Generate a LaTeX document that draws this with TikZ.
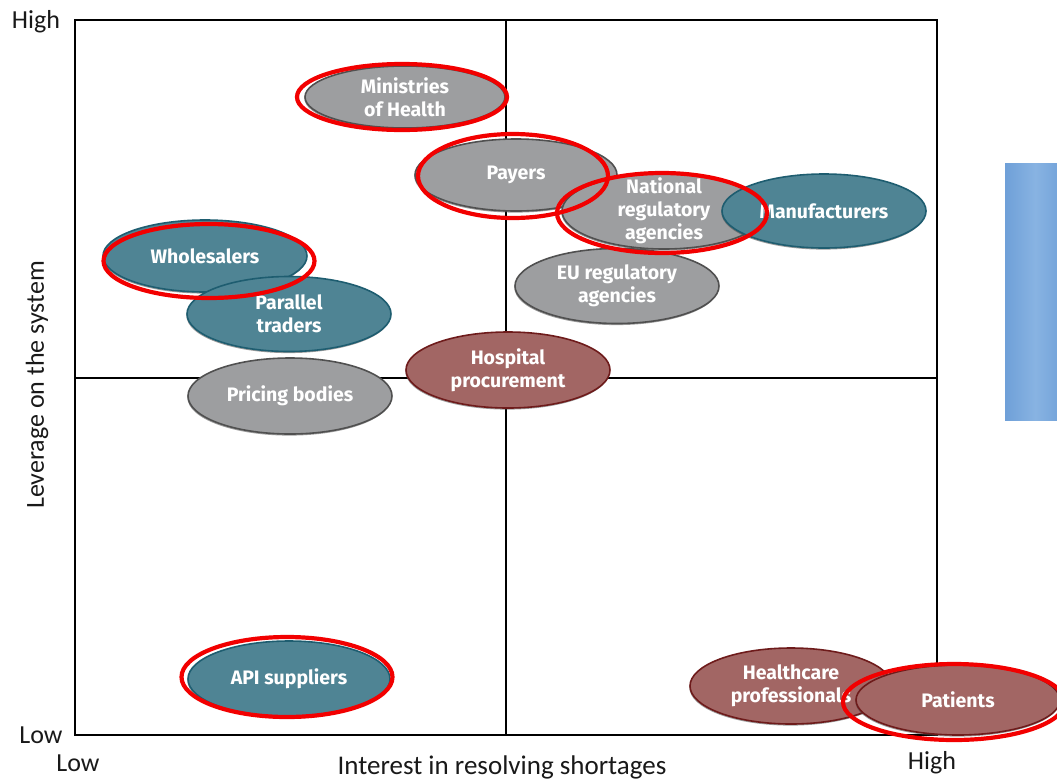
\documentclass[tikz,border=0pt]{standalone}
\usepackage{fontspec}
\setmainfont{Carlito}
\newfontfamily\bubblefont{Fira Sans}
\usetikzlibrary{shapes.geometric,shadows}
\definecolor{tealfill}{HTML}{4F8494}
\definecolor{tealline}{HTML}{1E5D70}
\definecolor{grayfill}{HTML}{9D9EA0}
\definecolor{grayline}{HTML}{505050}
\definecolor{brownfill}{HTML}{A26664}
\definecolor{brownline}{HTML}{6E1B1B}
\definecolor{ringred}{HTML}{F20000}
\definecolor{panelblue}{HTML}{6FA0D8}
\definecolor{panellight}{HTML}{88B3E2}
\tikzset{
  bubble/.style={ellipse, inner sep=0pt, line width=1.6pt,
    drop shadow={shadow xshift=-0.6pt, shadow yshift=-1.6pt, opacity=0.55, fill=black!70}},
  tealb/.style={bubble, fill=tealfill, draw=tealline},
  grayb/.style={bubble, fill=grayfill, draw=grayline},
  brownb/.style={bubble, fill=brownfill, draw=brownline},
  txt/.style={text=white, font=\bubblefont\bfseries\fontsize{19.5}{23}\selectfont, align=center, inner sep=0pt},
  ring/.style={ellipse, draw=ringred, line width=4.2pt, inner sep=0pt},
  axlabel/.style={font=\fontsize{26}{28}\selectfont, text=black!90, inner sep=0pt},
  frame/.style={line width=2.2pt},
  midline/.style={line width=1.6pt},
}
\begin{document}
\begin{tikzpicture}[x=1pt,y=-1pt]
\useasboundingbox (0,0) rectangle (1057,782);
\clip (0,0) rectangle (1057,782);
% blue panel
\node[minimum width=60pt, minimum height=257pt, inner sep=0pt, anchor=north west,
  left color=panelblue, right color=panelblue, middle color=panellight] (panel) at (1005,163) {};
% quadrant frame
\coordinate (tl) at (75,20);
\coordinate (br) at (937,735);
\coordinate (mt) at (506,20);
\coordinate (mb) at (506,735);
\coordinate (ml) at (75,378);
\coordinate (mr) at (937,378);
\draw[midline] (mt) -- (mb);
\draw[midline] (ml) -- (mr);
\draw[frame] (tl) rectangle (br);
% axis labels
\node[axlabel] (hightop) at (36,22) {High};
\node[axlabel] (lowleft) at (41,735) {Low};
\node[axlabel] (lowbot) at (78,763) {Low};
\node[axlabel] (highbot) at (932,763) {High};
\node[axlabel, font=\fontsize{27}{29}\selectfont] (xlab) at (502,767) {Interest in resolving shortages};
\node[axlabel, rotate=90] (ylab) at (37,385) {Leverage on the system};
% bubbles
\node[grayb, minimum width=200pt, minimum height=62pt] (moh) at (405,97) {};
\node[txt] (moht) at (moh) {Ministries\\of Health};
\node[grayb, minimum width=202pt, minimum height=72pt] (pay) at (516,175) {};
\node[txt] (payt) at (pay) {Payers};
\node[grayb, minimum width=204pt, minimum height=76pt] (nra) at (664,211) {};
\node[txt] (nrat) at (nra) {National\\regulatory\\agencies};
\node[tealb, minimum width=204pt, minimum height=74pt] (man) at (824,211) {};
\node[txt] (mant) at (man) {Manufacturers};
\node[grayb, minimum width=204pt, minimum height=75pt] (eu) at (617,286) {};
\node[txt] (eut) at (eu) {EU regulatory\\agencies};
\node[tealb, minimum width=204pt, minimum height=72pt] (whol) at (205,256) {};
\node[txt] (wholt) at (whol) {Wholesalers};
\node[tealb, minimum width=204pt, minimum height=75pt] (par) at (289,314) {};
\node[txt] (part) at (par) {Parallel\\traders};
\node[grayb, minimum width=204pt, minimum height=76pt] (pri) at (290,396) {};
\node[txt] (prit) at (pri) {Pricing bodies};
\node[brownb, minimum width=204pt, minimum height=76pt] (hos) at (508,370) {};
\node[txt] (host) at (hos) {Hospital\\procurement};
\node[tealb, minimum width=202pt, minimum height=76pt] (api) at (289,679) {};
\node[txt] (apit) at (api) {API suppliers};
\node[brownb, minimum width=202pt, minimum height=76pt] (hcp) at (791,686) {};
\node[txt] (hcpt) at (hcp) {Healthcare\\professionals};
\node[brownb, minimum width=204pt, minimum height=70pt] (pat) at (958,700) {};
\node[txt] (patt) at (pat) {Patients};
% red rings
\node[ring, minimum width=210pt, minimum height=66pt] (rmoh) at (402,97) {};
\node[ring, minimum width=190pt, minimum height=84pt] (rpay) at (513,176) {};
\node[ring, minimum width=210pt, minimum height=80pt] (rnra) at (662,213) {};
\node[ring, minimum width=211pt, minimum height=74pt] (rwhol) at (209,261) {};
\node[ring, minimum width=211pt, minimum height=80pt] (rapi) at (287,677) {};
\node[ring, minimum width=222pt, minimum height=76pt] (rpat) at (954,702) {};
\end{tikzpicture}
\end{document}
